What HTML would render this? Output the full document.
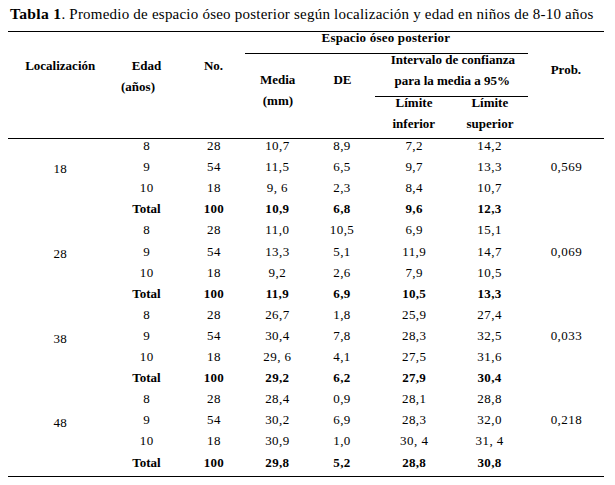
<!DOCTYPE html><html><head><meta charset="utf-8"><style>
html,body{margin:0;padding:0;background:#fff;}
body{width:615px;height:485px;position:relative;overflow:hidden;font-family:"Liberation Serif", serif;color:#000;}
.t{position:absolute;width:240px;text-align:center;white-space:nowrap;font-size:13px;line-height:13px;}
.b{font-weight:bold;}
.l{position:absolute;height:1px;background:#000;}
</style></head><body>
<div style="position:absolute;left:10px;top:6px;font-size:15px;line-height:15px;white-space:nowrap;"><b style="letter-spacing:0.3px;font-size:15.6px">Tabla 1</b><span style="letter-spacing:0.22px">. Promedio de espacio óseo posterior según localización y edad en niños de 8-10 años</span></div>
<div class="l" style="left:8px;width:596px;top:31px"></div>
<div class="l" style="left:245px;width:283px;top:53px"></div>
<div class="l" style="left:375px;width:153px;top:96px"></div>
<div class="l" style="left:8px;width:596px;top:138px"></div>
<div class="l" style="left:8px;width:596px;top:476px"></div>
<div class="t b" style="left:265.90px;top:31px;letter-spacing:0.2px">Espacio óseo posterior</div>
<div class="t b" style="left:-59.80px;top:59px">Localización</div>
<div class="t b" style="left:26.50px;top:59px">Edad</div>
<div class="t b" style="left:18.00px;top:80px">(años)</div>
<div class="t b" style="left:93.50px;top:59px">No.</div>
<div class="t b" style="left:332.80px;top:53px">Intervalo de confianza</div>
<div class="t b" style="left:332.20px;top:74px">para la media a 95%</div>
<div class="t b" style="left:157.70px;top:73px">Media</div>
<div class="t b" style="left:157.90px;top:94px">(mm)</div>
<div class="t b" style="left:222.50px;top:73px">DE</div>
<div class="t b" style="left:445.90px;top:63px">Prob.</div>
<div class="t b" style="left:294.00px;top:96px">Límite</div>
<div class="t b" style="left:293.80px;top:117px">inferior</div>
<div class="t b" style="left:369.80px;top:96px">Límite</div>
<div class="t b" style="left:370.00px;top:117px">superior</div>
<div class="t" style="left:26.73px;top:139px;letter-spacing:0.45px">8</div>
<div class="t" style="left:93.92px;top:139px;letter-spacing:0.45px">28</div>
<div class="t" style="left:157.42px;top:139px;letter-spacing:0.45px">10,7</div>
<div class="t" style="left:222.03px;top:139px;letter-spacing:0.45px">8,9</div>
<div class="t" style="left:294.23px;top:139px;letter-spacing:0.45px">7,2</div>
<div class="t" style="left:369.62px;top:139px;letter-spacing:0.45px">14,2</div>
<div class="t" style="left:26.73px;top:160px;letter-spacing:0.45px">9</div>
<div class="t" style="left:93.92px;top:160px;letter-spacing:0.45px">54</div>
<div class="t" style="left:157.42px;top:160px;letter-spacing:0.45px">11,5</div>
<div class="t" style="left:222.03px;top:160px;letter-spacing:0.45px">6,5</div>
<div class="t" style="left:294.23px;top:160px;letter-spacing:0.45px">9,7</div>
<div class="t" style="left:369.62px;top:160px;letter-spacing:0.45px">13,3</div>
<div class="t" style="left:26.73px;top:181px;letter-spacing:0.45px">10</div>
<div class="t" style="left:93.92px;top:181px;letter-spacing:0.45px">18</div>
<div class="t" style="left:157.42px;top:181px;letter-spacing:0.45px">9, 6</div>
<div class="t" style="left:222.03px;top:181px;letter-spacing:0.45px">2,3</div>
<div class="t" style="left:294.23px;top:181px;letter-spacing:0.45px">8,4</div>
<div class="t" style="left:369.62px;top:181px;letter-spacing:0.45px">10,7</div>
<div class="t b" style="left:26.50px;top:202px">Total</div>
<div class="t b" style="left:93.85px;top:202px;letter-spacing:0.3px">100</div>
<div class="t b" style="left:157.35px;top:202px;letter-spacing:0.3px">10,9</div>
<div class="t b" style="left:221.95px;top:202px;letter-spacing:0.3px">6,8</div>
<div class="t b" style="left:294.15px;top:202px;letter-spacing:0.3px">9,6</div>
<div class="t b" style="left:369.55px;top:202px;letter-spacing:0.3px">12,3</div>
<div class="t" style="left:26.73px;top:223px;letter-spacing:0.45px">8</div>
<div class="t" style="left:93.92px;top:223px;letter-spacing:0.45px">28</div>
<div class="t" style="left:157.42px;top:223px;letter-spacing:0.45px">11,0</div>
<div class="t" style="left:222.03px;top:223px;letter-spacing:0.45px">10,5</div>
<div class="t" style="left:294.23px;top:223px;letter-spacing:0.45px">6,9</div>
<div class="t" style="left:369.62px;top:223px;letter-spacing:0.45px">15,1</div>
<div class="t" style="left:26.73px;top:245px;letter-spacing:0.45px">9</div>
<div class="t" style="left:93.92px;top:245px;letter-spacing:0.45px">54</div>
<div class="t" style="left:157.42px;top:245px;letter-spacing:0.45px">13,3</div>
<div class="t" style="left:222.03px;top:245px;letter-spacing:0.45px">5,1</div>
<div class="t" style="left:294.23px;top:245px;letter-spacing:0.45px">11,9</div>
<div class="t" style="left:369.62px;top:245px;letter-spacing:0.45px">14,7</div>
<div class="t" style="left:26.73px;top:266px;letter-spacing:0.45px">10</div>
<div class="t" style="left:93.92px;top:266px;letter-spacing:0.45px">18</div>
<div class="t" style="left:157.42px;top:266px;letter-spacing:0.45px">9,2</div>
<div class="t" style="left:222.03px;top:266px;letter-spacing:0.45px">2,6</div>
<div class="t" style="left:294.23px;top:266px;letter-spacing:0.45px">7,9</div>
<div class="t" style="left:369.62px;top:266px;letter-spacing:0.45px">10,5</div>
<div class="t b" style="left:26.50px;top:287px">Total</div>
<div class="t b" style="left:93.85px;top:287px;letter-spacing:0.3px">100</div>
<div class="t b" style="left:157.35px;top:287px;letter-spacing:0.3px">11,9</div>
<div class="t b" style="left:221.95px;top:287px;letter-spacing:0.3px">6,9</div>
<div class="t b" style="left:294.15px;top:287px;letter-spacing:0.3px">10,5</div>
<div class="t b" style="left:369.55px;top:287px;letter-spacing:0.3px">13,3</div>
<div class="t" style="left:26.73px;top:308px;letter-spacing:0.45px">8</div>
<div class="t" style="left:93.92px;top:308px;letter-spacing:0.45px">28</div>
<div class="t" style="left:157.42px;top:308px;letter-spacing:0.45px">26,7</div>
<div class="t" style="left:222.03px;top:308px;letter-spacing:0.45px">1,8</div>
<div class="t" style="left:294.23px;top:308px;letter-spacing:0.45px">25,9</div>
<div class="t" style="left:369.62px;top:308px;letter-spacing:0.45px">27,4</div>
<div class="t" style="left:26.73px;top:329px;letter-spacing:0.45px">9</div>
<div class="t" style="left:93.92px;top:329px;letter-spacing:0.45px">54</div>
<div class="t" style="left:157.42px;top:329px;letter-spacing:0.45px">30,4</div>
<div class="t" style="left:222.03px;top:329px;letter-spacing:0.45px">7,8</div>
<div class="t" style="left:294.23px;top:329px;letter-spacing:0.45px">28,3</div>
<div class="t" style="left:369.62px;top:329px;letter-spacing:0.45px">32,5</div>
<div class="t" style="left:26.73px;top:350px;letter-spacing:0.45px">10</div>
<div class="t" style="left:93.92px;top:350px;letter-spacing:0.45px">18</div>
<div class="t" style="left:157.42px;top:350px;letter-spacing:0.45px">29, 6</div>
<div class="t" style="left:222.03px;top:350px;letter-spacing:0.45px">4,1</div>
<div class="t" style="left:294.23px;top:350px;letter-spacing:0.45px">27,5</div>
<div class="t" style="left:369.62px;top:350px;letter-spacing:0.45px">31,6</div>
<div class="t b" style="left:26.50px;top:371px">Total</div>
<div class="t b" style="left:93.85px;top:371px;letter-spacing:0.3px">100</div>
<div class="t b" style="left:157.35px;top:371px;letter-spacing:0.3px">29,2</div>
<div class="t b" style="left:221.95px;top:371px;letter-spacing:0.3px">6,2</div>
<div class="t b" style="left:294.15px;top:371px;letter-spacing:0.3px">27,9</div>
<div class="t b" style="left:369.55px;top:371px;letter-spacing:0.3px">30,4</div>
<div class="t" style="left:26.73px;top:392px;letter-spacing:0.45px">8</div>
<div class="t" style="left:93.92px;top:392px;letter-spacing:0.45px">28</div>
<div class="t" style="left:157.42px;top:392px;letter-spacing:0.45px">28,4</div>
<div class="t" style="left:222.03px;top:392px;letter-spacing:0.45px">0,9</div>
<div class="t" style="left:294.23px;top:392px;letter-spacing:0.45px">28,1</div>
<div class="t" style="left:369.62px;top:392px;letter-spacing:0.45px">28,8</div>
<div class="t" style="left:26.73px;top:413px;letter-spacing:0.45px">9</div>
<div class="t" style="left:93.92px;top:413px;letter-spacing:0.45px">54</div>
<div class="t" style="left:157.42px;top:413px;letter-spacing:0.45px">30,2</div>
<div class="t" style="left:222.03px;top:413px;letter-spacing:0.45px">6,9</div>
<div class="t" style="left:294.23px;top:413px;letter-spacing:0.45px">28,3</div>
<div class="t" style="left:369.62px;top:413px;letter-spacing:0.45px">32,0</div>
<div class="t" style="left:26.73px;top:434px;letter-spacing:0.45px">10</div>
<div class="t" style="left:93.92px;top:434px;letter-spacing:0.45px">18</div>
<div class="t" style="left:157.42px;top:434px;letter-spacing:0.45px">30,9</div>
<div class="t" style="left:222.03px;top:434px;letter-spacing:0.45px">1,0</div>
<div class="t" style="left:294.23px;top:434px;letter-spacing:0.45px">30, 4</div>
<div class="t" style="left:369.62px;top:434px;letter-spacing:0.45px">31, 4</div>
<div class="t b" style="left:26.50px;top:456px">Total</div>
<div class="t b" style="left:93.85px;top:456px;letter-spacing:0.3px">100</div>
<div class="t b" style="left:157.35px;top:456px;letter-spacing:0.3px">29,8</div>
<div class="t b" style="left:221.95px;top:456px;letter-spacing:0.3px">5,2</div>
<div class="t b" style="left:294.15px;top:456px;letter-spacing:0.3px">28,8</div>
<div class="t b" style="left:369.55px;top:456px;letter-spacing:0.3px">30,8</div>
<div class="t" style="left:-59.67px;top:162px;letter-spacing:0.45px">18</div>
<div class="t" style="left:-59.67px;top:247px;letter-spacing:0.45px">28</div>
<div class="t" style="left:-59.67px;top:332px;letter-spacing:0.45px">38</div>
<div class="t" style="left:-59.67px;top:416px;letter-spacing:0.45px">48</div>
<div class="t" style="left:446.43px;top:160px;letter-spacing:0.45px">0,569</div>
<div class="t" style="left:446.43px;top:245px;letter-spacing:0.45px">0,069</div>
<div class="t" style="left:446.43px;top:329px;letter-spacing:0.45px">0,033</div>
<div class="t" style="left:446.43px;top:413px;letter-spacing:0.45px">0,218</div>
</body></html>
